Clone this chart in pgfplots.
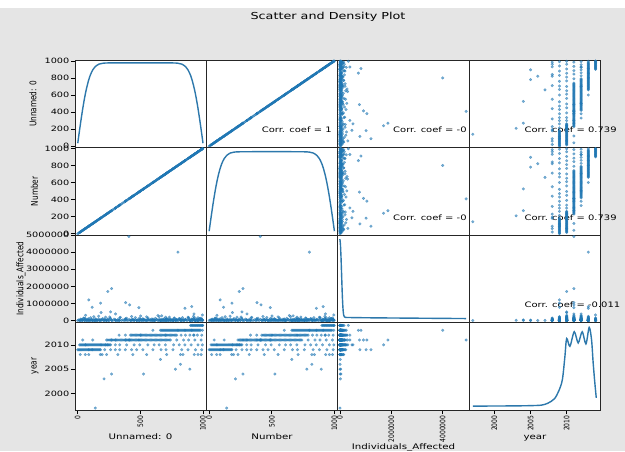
\documentclass[border=0pt]{standalone}
\usepackage{pgfplots}
\pgfplotsset{compat=1.18}
\usepackage{pgfplotstable}
\usepackage{fontspec}
\setmainfont{DejaVu Sans}[FakeStretch=1.33]
\newfontfamily\rotfont{DejaVu Sans}[FakeStretch=0.8]
\definecolor{c0}{HTML}{1F77B4}
\definecolor{bg}{RGB}{229,229,229}

\pgfplotstableread{
idx ind year
0 5000 2009
8 42000 2009
16 12000 2009
24 88000 2009
32 2000 2009
40 26000 2009
48 150000 2009
56 8000 2009
64 61000 2009
72 19000 2009
80 3000 2009
88 110000 2009
96 35000 2009
104 7000 2009
112 74000 2009
120 15000 2009
128 230000 2009
136 1000 2009
144 52000 2009
152 29000 2009
160 4000 2009
168 95000 2009
176 18000 2009
15 20000 2010
23 3000 2010
31 67000 2010
39 11000 2010
47 130000 2010
55 6000 2010
63 44000 2010
71 1000 2010
79 82000 2010
87 24000 2010
95 9000 2010
103 170000 2010
111 37000 2010
119 2000 2010
127 58000 2010
135 14000 2010
143 98000 2010
151 5000 2010
159 31000 2010
167 260000 2010
175 8000 2010
183 49000 2010
191 16000 2010
199 120000 2010
207 4000 2010
215 71000 2010
223 27000 2010
231 1000 2010
239 90000 2010
247 13000 2010
255 210000 2010
230 12000 2011
240 55000 2011
250 4000 2011
260 140000 2011
270 23000 2011
280 7000 2011
290 86000 2011
300 31000 2011
310 2000 2011
320 64000 2011
330 17000 2011
340 190000 2011
350 9000 2011
360 47000 2011
370 1000 2011
380 102000 2011
390 28000 2011
400 5000 2011
410 73000 2011
420 14000 2011
430 240000 2011
440 36000 2011
450 3000 2011
460 59000 2011
470 21000 2011
480 8000 2011
490 125000 2011
500 42000 2011
510 6000 2011
520 79000 2011
530 11000 2011
540 33000 2011
550 2000 2011
560 160000 2011
570 25000 2011
580 51000 2011
590 4000 2011
600 93000 2011
610 18000 2011
620 7000 2011
630 68000 2011
640 300000 2011
650 13000 2011
660 39000 2011
670 1000 2011
680 84000 2011
690 22000 2011
700 5000 2011
710 115000 2011
720 45000 2011
730 10000 2011
740 62000 2011
420 15000 2012
430 3000 2012
440 77000 2012
450 26000 2012
460 180000 2012
470 9000 2012
480 48000 2012
490 2000 2012
500 105000 2012
510 34000 2012
520 6000 2012
530 66000 2012
540 19000 2012
550 220000 2012
560 12000 2012
570 41000 2012
580 1000 2012
590 88000 2012
600 29000 2012
610 7000 2012
620 135000 2012
630 53000 2012
640 4000 2012
650 72000 2012
660 16000 2012
670 280000 2012
680 23000 2012
690 8000 2012
700 60000 2012
710 37000 2012
720 2000 2012
730 97000 2012
740 14000 2012
750 46000 2012
760 5000 2012
770 150000 2012
780 31000 2012
790 10000 2012
660 9000 2013
668 63000 2013
676 22000 2013
684 2000 2013
692 118000 2013
700 40000 2013
708 6000 2013
716 85000 2013
724 17000 2013
732 205000 2013
740 30000 2013
748 4000 2013
756 57000 2013
764 13000 2013
772 145000 2013
780 1000 2013
788 70000 2013
796 26000 2013
804 8000 2013
812 99000 2013
820 36000 2013
828 3000 2013
836 175000 2013
844 50000 2013
852 11000 2013
860 78000 2013
868 20000 2013
876 5000 2013
884 128000 2013
892 44000 2013
900 7000 2013
908 91000 2013
916 15000 2013
924 250000 2013
932 33000 2013
940 2000 2013
948 65000 2013
956 24000 2013
964 10000 2013
972 108000 2013
980 38000 2013
900 14000 2014
907 52000 2014
914 3000 2014
921 96000 2014
928 27000 2014
935 160000 2014
942 8000 2014
949 43000 2014
956 1000 2014
963 75000 2014
970 19000 2014
977 120000 2014
984 6000 2014
991 35000 2014
998 11000 2014
20 40000 2008
60 130000 2008
88 25000 2008
180 9000 2008
195 70000 2008
230 15000 2008
320 3000 2008
440 55000 2008
550 20000 2008
710 6000 2008
820 90000 2008
840 12000 2008
930 45000 2008
960 4000 2008
985 150000 2008
215 30000 2009
262 95000 2009
300 8000 2009
335 160000 2009
380 22000 2009
430 60000 2009
470 5000 2009
520 110000 2009
600 35000 2009
665 14000 2009
705 75000 2009
760 2000 2009
830 48000 2009
880 200000 2009
940 18000 2009
990 65000 2009
300 50000 2010
335 12000 2010
390 140000 2010
450 26000 2010
495 7000 2010
560 85000 2010
610 19000 2010
650 230000 2010
700 41000 2010
765 5000 2010
810 120000 2010
855 33000 2010
905 9000 2010
960 170000 2010
995 28000 2010
40 45000 2011
120 8000 2011
790 65000 2011
845 21000 2011
885 180000 2011
935 10000 2011
985 55000 2011
330 30000 2012
380 95000 2012
825 14000 2012
860 60000 2012
895 4000 2012
925 130000 2012
955 25000 2012
990 75000 2012
600 20000 2013
995 45000 2013
660 15000 2007
820 8000 2006
780 30000 2005
895 5000 2005
270 12000 2004
525 40000 2004
210 20000 2003
140 6000 1997
408 4910000 2011
800 4000000 2013
88 1210000 2009
115 780000 2009
182 1020000 2009
186 470000 2010
240 1700000 2010
270 1870000 2011
262 510000 2010
302 390000 2011
382 1050000 2011
414 920000 2011
488 760000 2011
502 270000 2012
856 720000 2013
910 820000 2013
928 390000 2012
995 330000 2014
702 200000 2012
62 310000 2010
222 200000 2010
}\data

\pgfplotsset{
  panel/.style={
    scale only axis, width=131.4pt, height=87.5pt, anchor=south west,
    axis background/.style={fill=white},
    axis line style={line width=0.8pt, black!85},
    xtick=\empty, ytick=\empty, tickpos=left,
    tick align=outside, major tick length=4pt,
    every tick/.style={black, line width=0.7pt},
    yticklabel style={font=\fontsize{7.3}{8}\selectfont, inner sep=1.5pt},
    xticklabel style={rotate=90, anchor=east, inner sep=1.5pt, font=\rotfont\fontsize{7.5}{8}\selectfont},
    scaled ticks=false,
    clip mode=individual,
    /pgf/number format/assume math mode=true,
  },
  colU/.style={xmin=-22, xmax=1027},
  colI/.style={xmin=-80000, xmax=5030000},
  colY/.style={xmin=1996.5, xmax=2014.7},
  rowU/.style={ymin=-15, ymax=1010},
  rowI/.style={ymin=-110000, ymax=5000000},
  rowY/.style={ymin=1996.6, ymax=2014.6},
  tickU/.style={ytick={0,200,400,600,800,1000}, yticklabels={0,200,400,600,800,1000}},
  tickUx/.style={xtick={0,500,1000}, xticklabels={0,500,1000}},
  tickI/.style={ytick={0,1000000,2000000,3000000,4000000,5000000}, yticklabels={0,1000000,2000000,3000000,4000000,5000000}},
  tickIx/.style={xtick={0,2000000,4000000}, xticklabels={0,2000000,4000000}},
  tickY/.style={ytick={2000,2005,2010}, yticklabels={2000,2005,2010}},
  tickYx/.style={xtick={2000,2005,2010}, xticklabels={2000,2005,2010}},
  pts/.style={only marks, mark=*, mark size=1.4pt, color=c0, mark options={fill=c0, draw=c0, line width=0.2pt, opacity=0.6}},
  kde/.style={no marks, c0!85!gray, line width=1.4pt, smooth},
}
\newcommand{\corr}[1]{\node[anchor=west, inner sep=0pt, font=\fontsize{7.5}{8}\selectfont] at (rel axis cs:0.42,0.2) {Corr. coef = #1};}

\begin{document}
\begin{tikzpicture}
\useasboundingbox (0pt,0pt) rectangle (625pt,451pt);
\fill[bg] (0pt,0pt) rectangle (625pt,451pt);
\fill[white] (0pt,443pt) rectangle (625pt,451pt);

% Row 1
\begin{axis}[panel, colU, rowU, tickU, at={(75pt,303.5pt)}]
\addplot[kde] coordinates {(0,35) (10,142) (20,247) (30,347) (40,442) (50,529) (60,608) (70,677) (85,764) (100,832) (120,895) (140,933) (170,962) (200,972) (250,976) (400,977) (600,977) (750,976) (800,972) (830,962) (860,933) (880,895) (900,832) (915,764) (930,677) (940,608) (950,529) (960,442) (970,347) (980,247) (990,142) (1000,35)};
\end{axis}
\begin{axis}[panel, colU, rowU, at={(206.4pt,303.5pt)}]
\corr{1}
\addplot[pts] table[x=idx, y=idx] {\data};
\end{axis}
\begin{axis}[panel, colI, rowU, at={(337.8pt,303.5pt)}]
\corr{-0}
\addplot[pts] table[x=ind, y=idx] {\data};
\end{axis}
\begin{axis}[panel, colY, rowU, at={(469.2pt,303.5pt)}]
\corr{0.739}
\addplot[pts] table[x=year, y=idx] {\data};
\end{axis}

% Row 2
\begin{axis}[panel, colU, rowU, tickU, at={(75pt,216pt)}]
\addplot[pts] table[x=idx, y=idx] {\data};
\end{axis}
\begin{axis}[panel, colU, rowU, at={(206.4pt,216pt)}]
\addplot[kde] coordinates {(0,30) (10,136) (20,239) (30,339) (40,432) (50,518) (60,596) (70,665) (85,751) (100,818) (120,880) (140,917) (170,946) (200,956) (250,960) (400,961) (600,961) (750,960) (800,956) (830,946) (860,917) (880,880) (900,818) (915,751) (930,665) (940,596) (950,518) (960,432) (970,339) (980,239) (990,136) (1000,30)};
\end{axis}
\begin{axis}[panel, colI, rowU, at={(337.8pt,216pt)}]
\corr{-0}
\addplot[pts] table[x=ind, y=idx] {\data};
\end{axis}
\begin{axis}[panel, colY, rowU, at={(469.2pt,216pt)}]
\corr{0.739}
\addplot[pts] table[x=year, y=idx] {\data};
\end{axis}

% Row 3
\begin{axis}[panel, colU, rowI, tickI, at={(75pt,128.5pt)}]
\addplot[pts] table[x=idx, y=ind] {\data};
\end{axis}
\begin{axis}[panel, colU, rowI, at={(206.4pt,128.5pt)}]
\addplot[pts] table[x=idx, y=ind] {\data};
\end{axis}
\begin{axis}[panel, colI, rowI, at={(337.8pt,128.5pt)}]
\addplot[kde, smooth=false] coordinates {(0,4760000) (20000,4500000) (45000,3700000) (70000,2600000) (95000,1500000) (120000,750000) (145000,350000) (175000,220000) (220000,190000) (400000,180000) (1500000,160000) (4910000,120000)};
\end{axis}
\begin{axis}[panel, colY, rowI, at={(469.2pt,128.5pt)}]
\corr{-0.011}
\addplot[pts] table[x=year, y=ind] {\data};
\end{axis}

% Row 4
\begin{axis}[panel, colU, rowY, tickY, tickUx, at={(75pt,41pt)}]
\addplot[pts] table[x=idx, y=year] {\data};
\end{axis}
\begin{axis}[panel, colU, rowY, tickUx, at={(206.4pt,41pt)}]
\addplot[pts] table[x=idx, y=year] {\data};
\end{axis}
\begin{axis}[panel, colI, rowY, tickIx, at={(337.8pt,41pt)}]
\addplot[pts] table[x=ind, y=year] {\data};
\end{axis}
\begin{axis}[panel, colY, rowY, tickYx, at={(469.2pt,41pt)}]
\addplot[kde] coordinates {(1997,1997.4) (2000,1997.42) (2003,1997.45) (2005,1997.5) (2006.5,1997.6) (2007.4,1998.0) (2008.3,1998.9) (2008.9,2000.5) (2009.4,2002.8) (2009.75,2007.5) (2010.0,2011.3) (2010.45,2009.7) (2011.05,2012.7) (2011.6,2010.4) (2012.15,2012.7) (2012.67,2010.2) (2013.12,2013.6) (2013.45,2011.0) (2013.67,2006.3) (2013.9,2002.2) (2014.1,1999.1)};
\end{axis}

% labels
\node[font=\fontsize{9.6}{11}\selectfont] at (328pt,434pt) {Scatter and Density Plot};
\node[anchor=base, font=\fontsize{7.7}{9}\selectfont] at (140.5pt,12pt) {Unnamed: 0};
\node[anchor=base, font=\fontsize{7.7}{9}\selectfont] at (272pt,12pt) {Number};
\node[anchor=base, font=\fontsize{7.7}{9}\selectfont] at (403.5pt,1.5pt) {Individuals\_Affected};
\node[anchor=base, font=\fontsize{7.7}{9}\selectfont] at (535pt,12pt) {year};
\node[rotate=90, font=\rotfont\fontsize{9.2}{10}\selectfont] at (33pt,347pt) {Unnamed: 0};
\node[rotate=90, font=\rotfont\fontsize{9.2}{10}\selectfont] at (34.5pt,259.75pt) {Number};
\node[rotate=90, font=\rotfont\fontsize{9.2}{10}\selectfont] at (21pt,172.25pt) {Individuals\_Affected};
\node[rotate=90, font=\rotfont\fontsize{9.2}{10}\selectfont] at (35pt,85pt) {year};
\end{tikzpicture}
\end{document}
